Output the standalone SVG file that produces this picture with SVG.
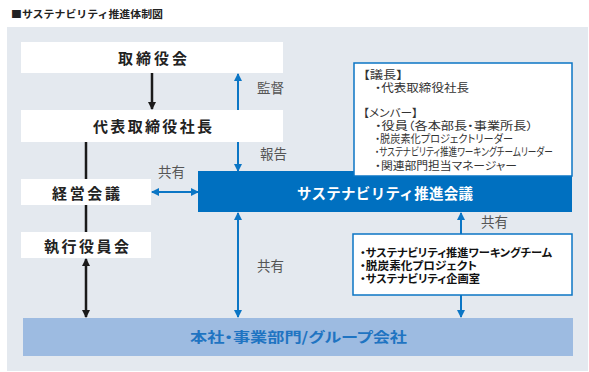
<svg xmlns="http://www.w3.org/2000/svg" width="589" height="372" viewBox="0 0 589 372">
<style>
text{font-family:"Noto Sans CJK JP","Noto Sans",sans-serif;}
.node{fill:#ffffff;}
.lbl{font-size:15px;font-weight:bold;fill:#222;text-anchor:middle;}
.edge{font-size:13.5px;fill:#555;}
.mem{font-size:11px;fill:#333;font-feature-settings:"palt";}
.act{font-size:11px;font-weight:bold;fill:#111;font-feature-settings:"palt";}
.bl{stroke:#0b76c5;stroke-width:2;fill:none;}
.bk{stroke:#1a1a1a;stroke-width:2.5;fill:none;}
</style>
<defs>
<marker id="hb" viewBox="0 0 8 8" refX="7" refY="4" markerWidth="8" markerHeight="8" markerUnits="userSpaceOnUse" orient="auto-start-reverse"><path d="M0,0 L8,4 L0,8 z" fill="#0b76c5"/></marker>
<marker id="hk" viewBox="0 0 8 8" refX="7" refY="4" markerWidth="8" markerHeight="8" markerUnits="userSpaceOnUse" orient="auto-start-reverse"><path d="M0,0 L8,4 L0,8 z" fill="#1a1a1a"/></marker>
</defs>
<rect width="589" height="372" fill="#ffffff"/>
<text x="11" y="17.7" font-size="10" font-weight="bold" fill="#222" textLength="152" lengthAdjust="spacingAndGlyphs">■サステナビリティ推進体制図</text>
<rect x="7" y="27" width="581" height="344" fill="#e4e9ef"/>

<g id="connectors">
<line class="bk" x1="152" y1="73" x2="152" y2="109" marker-end="url(#hk)"/>
<line class="bk" x1="86" y1="142" x2="86" y2="179"/>
<line class="bk" x1="86" y1="205" x2="86" y2="232"/>
<line class="bk" x1="86" y1="259" x2="86" y2="317" marker-start="url(#hk)" marker-end="url(#hk)"/>
<line class="bl" x1="238" y1="110" x2="238" y2="74" marker-end="url(#hb)"/>
<line class="bl" x1="238" y1="142" x2="238" y2="171" marker-end="url(#hb)"/>
<line class="bl" x1="152" y1="192" x2="198" y2="192" marker-start="url(#hb)" marker-end="url(#hb)"/>
<line class="bl" x1="238" y1="213" x2="238" y2="317" marker-start="url(#hb)" marker-end="url(#hb)"/>
<line class="bl" x1="461" y1="234" x2="461" y2="213" marker-end="url(#hb)"/>
<line class="bl" x1="461" y1="295" x2="461" y2="317" marker-end="url(#hb)"/>
<text class="edge" x="257" y="93">監督</text>
<text class="edge" x="260" y="159">報告</text>
<text class="edge" x="158" y="177">共有</text>
<text class="edge" x="257" y="271">共有</text>
<text class="edge" x="481" y="227">共有</text>
</g>

<g id="board">
<rect class="node" x="21" y="42" width="262" height="31"/>
<text class="lbl" x="152.5" y="63.5" textLength="69">取締役会</text>
</g>
<g id="president">
<rect class="node" x="21" y="110" width="262" height="32"/>
<text class="lbl" x="152.5" y="132" textLength="119">代表取締役社長</text>
</g>
<g id="management">
<rect class="node" x="21" y="179" width="130" height="26"/>
<text class="lbl" x="86" y="199" textLength="68">経営会議</text>
</g>
<g id="executive">
<rect class="node" x="21" y="232" width="130" height="26"/>
<text class="lbl" x="86.5" y="251.5" textLength="85">執行役員会</text>
</g>
<g id="sustainability-council">
<rect x="198" y="171" width="374" height="41" fill="#0070c0"/>
<text x="385" y="198.5" font-size="14.5" font-weight="bold" fill="#ffffff" text-anchor="middle" textLength="176">サステナビリティ推進会議</text>
</g>
<g id="members">
<rect x="354" y="63" width="218" height="113" fill="#ffffff" stroke="#0b76c5" stroke-width="1.5"/>
<text class="mem" x="363" y="79" textLength="40" lengthAdjust="spacingAndGlyphs">【議長】</text>
<text class="mem" x="375" y="91.5" textLength="94" lengthAdjust="spacingAndGlyphs">・代表取締役社長</text>
<text class="mem" x="363" y="117" textLength="55" lengthAdjust="spacingAndGlyphs">【メンバー】</text>
<text class="mem" x="375" y="130" textLength="158" lengthAdjust="spacingAndGlyphs">・役員（各本部長・事業所長）</text>
<text class="mem" x="375" y="143" textLength="138" lengthAdjust="spacingAndGlyphs">・脱炭素化プロジェクトリーダー</text>
<text class="mem" transform="translate(375,155.5) scale(0.75,1)" x="0" y="0" textLength="237" lengthAdjust="spacingAndGlyphs">・サステナビリティ推進ワーキングチームリーダー</text>
<text class="mem" x="375" y="169.5" textLength="142" lengthAdjust="spacingAndGlyphs">・関連部門担当マネージャー</text>
</g>
<g id="working-groups">
<rect x="353" y="234" width="219" height="61" fill="#ffffff" stroke="#0b76c5" stroke-width="1.5"/>
<text class="act" x="360" y="257" textLength="192" lengthAdjust="spacingAndGlyphs">・サステナビリティ推進ワーキングチーム</text>
<text class="act" x="360" y="270" textLength="117" lengthAdjust="spacingAndGlyphs">・脱炭素化プロジェクト</text>
<text class="act" x="360" y="283" textLength="120" lengthAdjust="spacingAndGlyphs">・サステナビリティ企画室</text>
</g>
<g id="business-units">
<rect x="23" y="318" width="550" height="38" fill="#9dbbe1"/>
<text x="298.5" y="342" font-size="14" font-weight="bold" fill="#1f74c2" text-anchor="middle" textLength="217" lengthAdjust="spacingAndGlyphs" style="font-feature-settings:'palt'">本社・事業部門/グループ会社</text>
</g>
</svg>
